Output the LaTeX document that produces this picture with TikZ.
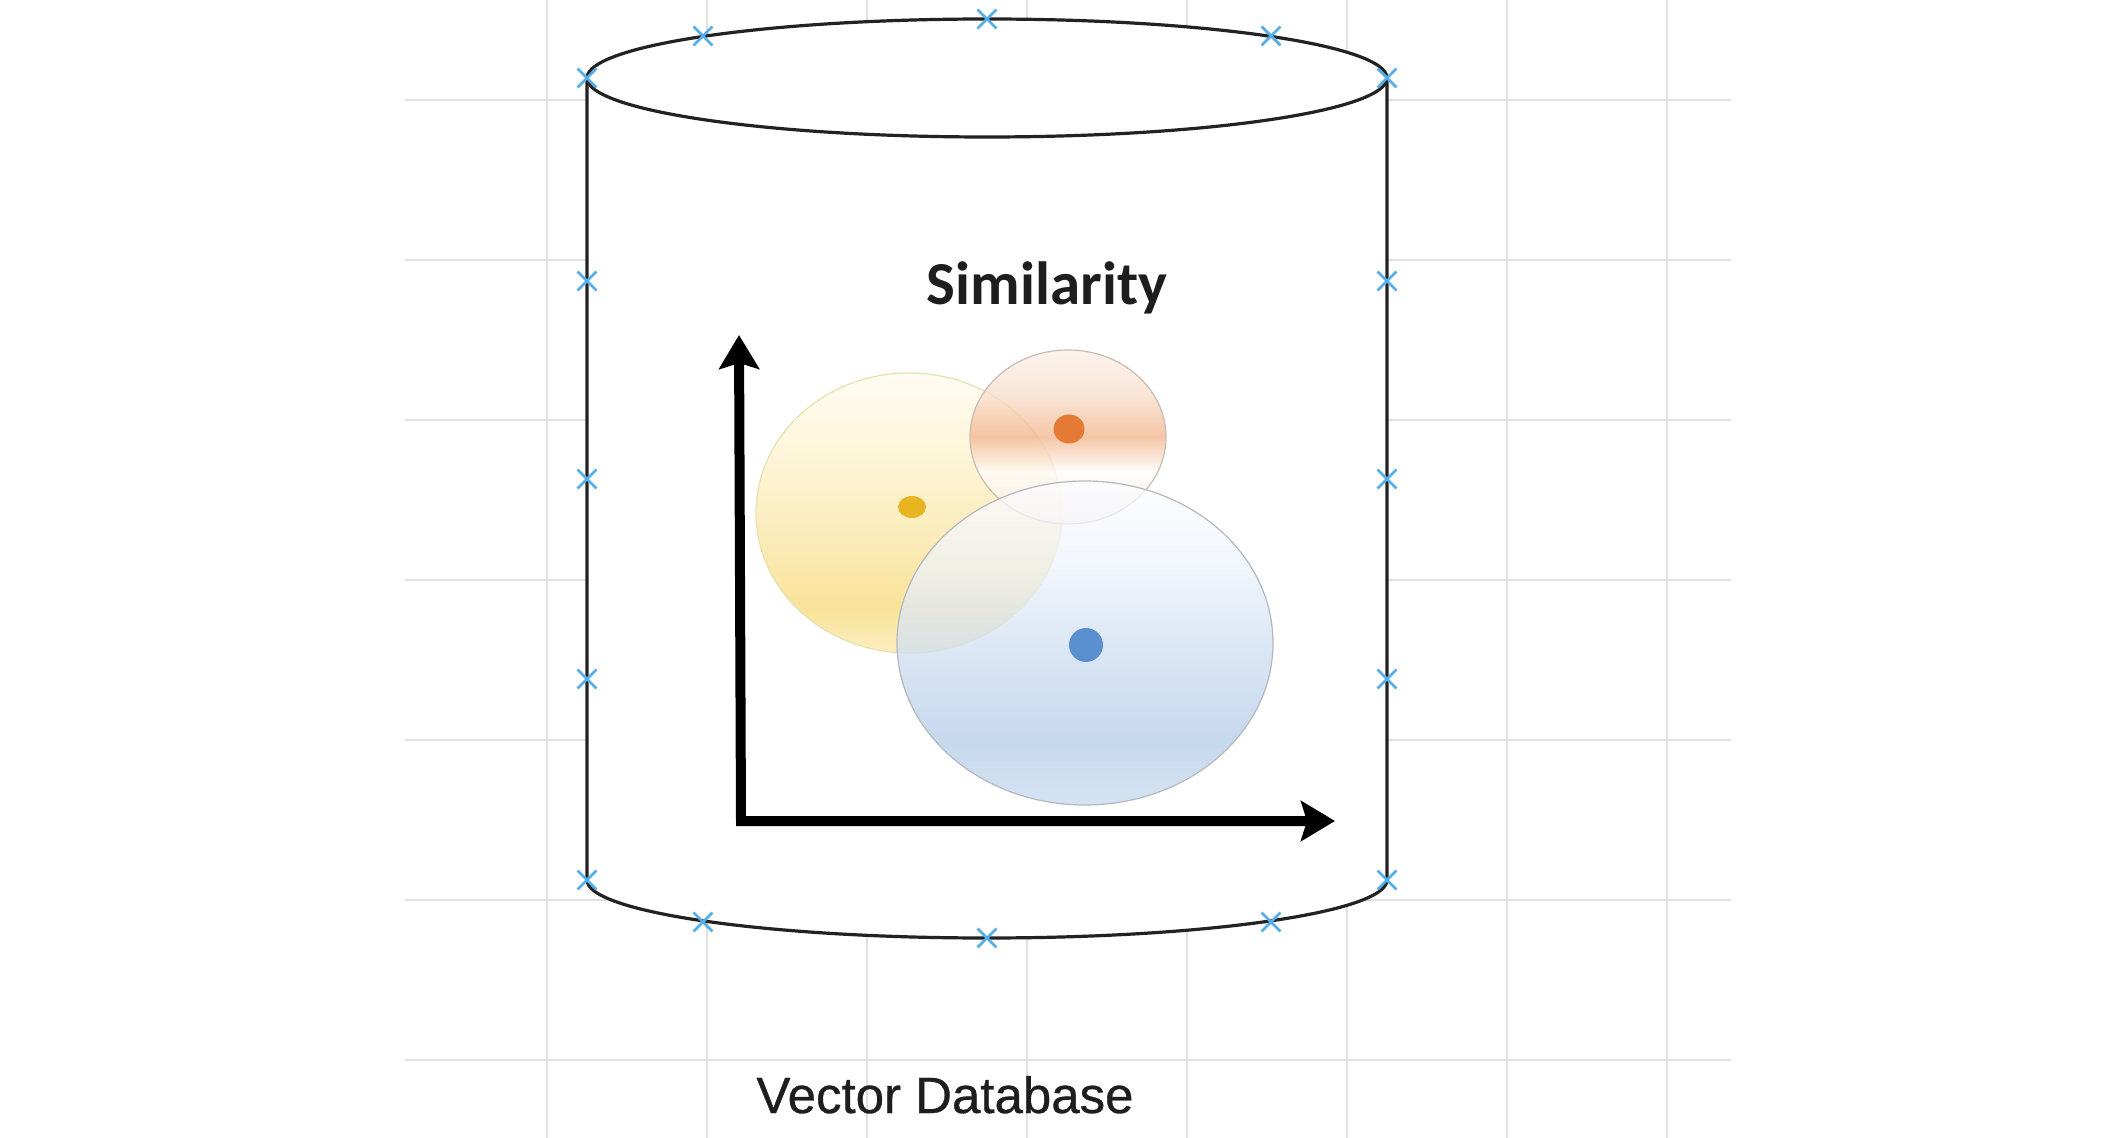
\documentclass[tikz,border=0pt]{standalone}
\usepackage{fontspec}
\setmainfont{Liberation Sans}
\newfontfamily\calibfont{Carlito}
\newfontfamily\capfont[FakeBold=0.6]{Liberation Sans}
\usetikzlibrary{arrows.meta,shapes.geometric,shapes.misc}

\definecolor{gridc}{HTML}{E0E0E0}
\definecolor{markc}{HTML}{55AEE6}
\definecolor{cylc}{HTML}{222222}
\definecolor{txtc}{HTML}{1E1E1E}

% yellow
\definecolor{ya}{HTML}{FBEAB0}
\definecolor{yb}{HTML}{F8DC80}
\definecolor{yc}{HTML}{FAE6A6}
\definecolor{yd}{HTML}{FDF3CF}
\definecolor{ye}{HTML}{FFFCF0}
\definecolor{yline}{HTML}{E6E2B0}
% orange
\definecolor{oa}{HTML}{F8EAE2}
\definecolor{ob}{HTML}{FFFCFA}
\definecolor{oc}{HTML}{F2B890}
\definecolor{od}{HTML}{F8DCC8}
\definecolor{oe}{HTML}{FCF1EA}
\definecolor{oline}{HTML}{C8BCB4}
% blue
\definecolor{ba}{HTML}{C7DAF0}
\definecolor{bb}{HTML}{B4CCE8}
\definecolor{bc}{HTML}{D2E0F2}
\definecolor{bd}{HTML}{EEF3FB}
\definecolor{be}{HTML}{FCFDFF}
\definecolor{bline}{HTML}{B4B8BE}

\definecolor{ydot}{HTML}{E8B422}
\definecolor{odot}{HTML}{E57A35}
\definecolor{bdot}{HTML}{5A8FD0}

\pgfdeclareverticalshading{yshade}{100bp}{color(0bp)=(ya); color(25bp)=(ya); color(33bp)=(yb); color(45bp)=(yc); color(60bp)=(yd); color(75bp)=(ye); color(100bp)=(ye)}
\pgfdeclareverticalshading{oshade}{100bp}{color(0bp)=(oa); color(25bp)=(oa); color(40bp)=(ob); color(50bp)=(oc); color(61bp)=(od); color(75bp)=(oe); color(100bp)=(oe)}
\pgfdeclareverticalshading{bshade}{100bp}{color(0bp)=(ba); color(25bp)=(ba); color(35bp)=(bb); color(50bp)=(bc); color(62bp)=(bd); color(75bp)=(be); color(100bp)=(be)}

\begin{document}
\begin{tikzpicture}[x=0.5pt,y=-0.5pt,
  gridline/.style={draw=gridc,line width=1pt},
  cyl/.style={draw=cylc,line width=1.6pt},
  xmark/.style={cross out,draw=markc,line width=1.4pt,minimum size=8pt,inner sep=0pt},
  bubble/.style={ellipse,inner sep=0pt,fill opacity=0.8,line width=0.6pt},
  dot/.style={ellipse,inner sep=0pt},
  axis/.style={line width=5pt,draw=black,{Stealth[length=17pt,width=20pt,inset=3pt]}-{Stealth[length=17pt,width=20pt,inset=3pt]}}
]
\useasboundingbox (0,0) rectangle (2116,1138);
\fill[white] (0,0) rectangle (2116,1138);

% grid
\foreach \gx in {547,707,...,1667} \draw[gridline] (\gx,0) -- (\gx,1138);
\foreach \gy in {100,260,...,1060} \draw[gridline] (405,\gy) -- (1731,\gy);

% cylinder
\draw[cyl,fill=white] (587,78) -- (587,880) arc[start angle=180,end angle=0,x radius=400,y radius=58] -- (1387,78);
\draw[cyl,fill=white] (987,78) ellipse[x radius=400,y radius=59];

% markers
\foreach \n/\p in {t1/{(587,78)},t2/{(703,36)},t3/{(987,19)},t4/{(1271,36)},t5/{(1387,78)},
  l1/{(587,281)},l2/{(587,479)},l3/{(587,679)},l4/{(587,880)},
  r1/{(1387,281)},r2/{(1387,479)},r3/{(1387,679)},r4/{(1387,880)},
  b1/{(703,922)},b2/{(987,938)},b3/{(1271,922)}}
  \node[xmark] (m\n) at \p {};

% title
\node[font=\calibfont\bfseries\fontsize{30.5pt}{36pt}\selectfont,text=txtc,anchor=base] (title) at (1047,305) {Similarity};

% bubbles
\node[bubble,shading=yshade,draw=yline,minimum width=153pt,minimum height=140pt] (yel) at (909,513) {};
\node[bubble,shading=oshade,draw=oline,minimum width=98pt,minimum height=87pt] (ora) at (1068,437) {};
\node[bubble,shading=bshade,draw=bline,fill opacity=0.75,minimum width=188pt,minimum height=162pt] (blu) at (1085,643) {};

% dots
\node[dot,fill=ydot,minimum width=14pt,minimum height=11pt] (yd) at (912,507) {};
\node[dot,fill=odot,minimum width=15.5pt,minimum height=14.5pt] (od) at (1069,429) {};
\node[dot,fill=bdot,minimum width=17pt,minimum height=17pt] (bd) at (1086,645) {};

% axes
\coordinate (ytip) at (739,335);
\coordinate (origin) at (741,821);
\coordinate (xtip) at (1335,821);
\draw[axis] (ytip) -- (origin) -- (xtip);

% caption
\node[font=\capfont\fontsize{25.5pt}{30pt}\selectfont,text=txtc,anchor=base] (cap) at (945,1113) {Vector Database};
\end{tikzpicture}
\end{document}
